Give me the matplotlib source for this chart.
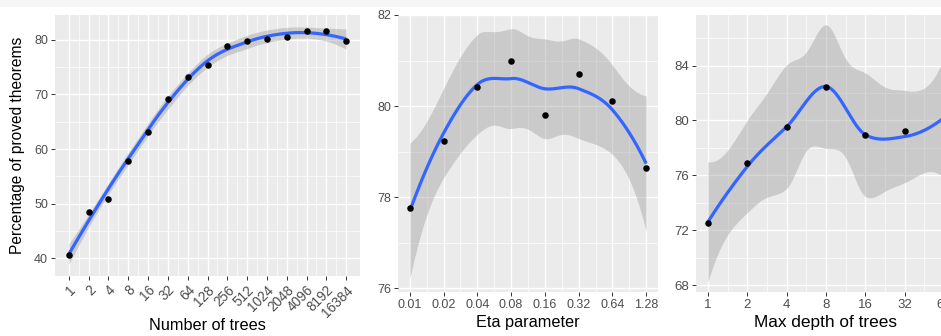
import math
import numpy as np
import matplotlib
matplotlib.use("Agg")
import matplotlib.pyplot as plt
from matplotlib.patches import Rectangle

plt.rcParams['font.family'] = ['Liberation Sans', 'DejaVu Sans']

# ---------------- data ----------------
trees_labels = ["1", "2", "4", "8", "16", "32", "64", "128", "256", "512",
                "1024", "2048", "4096", "8192", "16384"]
trees_values = [40.6, 48.5, 50.8, 57.8, 63.1, 69.2, 73.1, 75.4, 78.9, 79.8,
                80.1, 80.4, 81.5, 81.5, 79.8]

eta_labels = ["0.01", "0.02", "0.04", "0.08", "0.16", "0.32", "0.64", "1.28"]
eta_values = [77.77, 79.23, 80.41, 80.99, 79.81, 80.70, 80.12, 78.64]

depth_labels = ["1", "2", "4", "8", "16", "32", "64"]
depth_values = [72.53, 76.91, 79.54, 82.47, 78.96, 79.25, 80.1]

# ---------------- loess (like geom_smooth default, R-style interpolation) ----------------
def _betacf(a, b, x):
    MAXIT, EPS, FPMIN = 300, 3e-14, 1e-300
    qab, qap, qam = a + b, a + 1.0, a - 1.0
    c, d = 1.0, 1.0 - qab * x / qap
    if abs(d) < FPMIN:
        d = FPMIN
    d = 1.0 / d
    h = d
    for m in range(1, MAXIT + 1):
        m2 = 2 * m
        aa = m * (b - m) * x / ((qam + m2) * (a + m2))
        d = 1.0 + aa * d
        d = FPMIN if abs(d) < FPMIN else d
        c = 1.0 + aa / c
        c = FPMIN if abs(c) < FPMIN else c
        d = 1.0 / d
        h *= d * c
        aa = -(a + m) * (qab + m) * x / ((a + m2) * (qap + m2))
        d = 1.0 + aa * d
        d = FPMIN if abs(d) < FPMIN else d
        c = 1.0 + aa / c
        c = FPMIN if abs(c) < FPMIN else c
        d = 1.0 / d
        de = d * c
        h *= de
        if abs(de - 1.0) < EPS:
            break
    return h

def _betai(a, b, x):
    if x <= 0:
        return 0.0
    if x >= 1:
        return 1.0
    bt = math.exp(math.lgamma(a + b) - math.lgamma(a) - math.lgamma(b)
                  + a * math.log(x) + b * math.log(1 - x))
    if x < (a + 1) / (a + b + 2):
        return bt * _betacf(a, b, x) / a
    return 1.0 - bt * _betacf(b, a, 1 - x) / b

def _pt(t, df):
    p = 0.5 * _betai(df / 2.0, 0.5, df / (df + t * t))
    return 1 - p if t > 0 else p

def _qt(p, df):
    lo, hi = 0.0, 1e6
    for _ in range(300):
        mid = 0.5 * (lo + hi)
        if _pt(mid, df) < p:
            lo = mid
        else:
            hi = mid
    return 0.5 * (lo + hi)

def _local(x, x0, q, degree=2):
    d = np.abs(x - x0)
    h = np.sort(d)[q - 1]
    u = d / h
    w = np.where(u < 1, (1 - u ** 3) ** 3, 0.0)
    X = np.vander(x - x0, degree + 1, increasing=True)
    A = X.T @ (w[:, None] * X)
    B = np.linalg.pinv(A) @ (X.T * w)
    return B[0], B[1]          # operator rows for value and slope

def _vertices(x, span, cell=0.2):
    xs = np.sort(x)
    n = len(xs)
    fc = int(np.floor(n * span * cell))
    rng = xs[-1] - xs[0]
    margin = 0.005 * rng
    lo, hi = xs[0] - margin, xs[-1] + margin
    fd = span * cell * (hi - lo)
    verts = {lo, hi}

    def split(l, u, vlo, vhi):
        if u - l + 1 <= fc or (vhi - vlo) <= fd:
            return
        m = (l + u) // 2
        v = xs[m - 1]
        if v == vlo or v == vhi:
            return
        verts.add(v)
        split(l, m, vlo, v)
        split(m + 1, u, v, vhi)

    split(1, n, lo, hi)
    return np.array(sorted(verts))

def _interp_rows(x, z, span):
    n = len(x)
    q = int(np.floor(n * span))
    V = _vertices(x, span)
    vals, slopes = zip(*[_local(x, v, q) for v in V])
    vals, slopes = np.array(vals), np.array(slopes)
    rows = []
    for zz in z:
        i = np.searchsorted(V, zz, side="right") - 1
        i = min(max(i, 0), len(V) - 2)
        h = V[i + 1] - V[i]
        u = (zz - V[i]) / h
        p0 = (1 - u) ** 2 * (1 + 2 * u)
        p1 = u ** 2 * (3 - 2 * u)
        s0 = u * (1 - u) ** 2
        s1 = -u ** 2 * (1 - u)
        rows.append(p0 * vals[i] + p1 * vals[i + 1] + h * (s0 * slopes[i] + s1 * slopes[i + 1]))
    return np.array(rows)

def loess_smooth(x, y, n_out=200, span=0.75, ci_scale=1.0):
    x = np.asarray(x, float)
    y = np.asarray(y, float)
    n = len(x)
    L = _interp_rows(x, x, span)
    res = y - L @ y
    I = np.eye(n)
    M = (I - L).T @ (I - L)
    d1 = np.trace(M)
    d2 = np.trace(M @ M)
    sigma = math.sqrt(np.sum(res ** 2) / d1)
    df = d1 ** 2 / d2
    tq = _qt(0.975, df)
    xs = np.linspace(x.min(), x.max(), n_out)
    rows = _interp_rows(x, xs, span)
    fit = rows @ y
    se = sigma * np.sqrt(np.sum(rows ** 2, axis=1))
    half = tq * se * ci_scale
    return xs, fit, fit - half, fit + half

# ---------------- figure ----------------
W, H = 941, 336
fig = plt.figure(figsize=(W / 100, H / 100), dpi=100)
fig.patch.set_facecolor("white")
fig.patches.append(Rectangle((0, 1 - 7 / H), 1, 7 / H, transform=fig.transFigure,
                             facecolor="#F6F6F6", edgecolor="none", zorder=0))

def px_axes(l, t, r, b):
    return fig.add_axes([l / W, 1 - b / H, (r - l) / W, (b - t) / H])

def style(ax, xt, xlabels, yt, xlim, ylim, fs=9.0, xfs=None, rot=False):
    ax.set_facecolor("#EBEBEB")
    for s in ax.spines.values():
        s.set_visible(False)
    ax.set_xlim(*xlim)
    ax.set_xticks(xt)
    ax.set_xticklabels(xlabels)
    ax.set_yticks(yt)
    xt = np.asarray(xt, float)
    yt = np.asarray(yt, float)
    ax.set_xticks((xt[:-1] + xt[1:]) / 2, minor=True)
    ym = list((yt[:-1] + yt[1:]) / 2)
    step = yt[1] - yt[0]
    ym += [yt[0] - step / 2, yt[-1] + step / 2]
    ax.set_yticks(ym, minor=True)
    ax.set_ylim(*ylim)
    ax.grid(True, which="major", color="white", linewidth=1.0)
    ax.grid(True, which="minor", color="white", linewidth=0.5)
    ax.set_axisbelow(True)
    ax.tick_params(which="major", length=3, width=0.7, color="#333333",
                   labelcolor="#4D4D4D", labelsize=fs, pad=2)
    ax.tick_params(axis="x", labelsize=xfs if xfs else fs)
    ax.tick_params(which="minor", length=0)
    if rot:
        for lab in ax.get_xticklabels():
            lab.set_rotation(45)
            lab.set_ha("right")
            lab.set_va("top")
            lab.set_rotation_mode("anchor")

def draw(ax, xpos, yvals, ci_scale=1.0):
    xs, fit, lo, hi = loess_smooth(xpos, yvals, ci_scale=ci_scale)
    ax.fill_between(xs, lo, hi, color="#999999", alpha=0.4, linewidth=0, zorder=2)
    ax.plot(xs, fit, color="#3366FF", linewidth=2.3, zorder=3, solid_capstyle="butt")
    ax.scatter(xpos, yvals, s=22, color="black", zorder=4, linewidths=0)

# Panel 1
x1 = np.arange(len(trees_values))
ax1 = px_axes(55, 15, 360, 276)
style(ax1, x1, trees_labels, [40, 50, 60, 70, 80], (-0.7, 14.7), (36.8, 84.5),
      fs=9.0, xfs=9.8, rot=True)
draw(ax1, x1, trees_values)
ax1.set_xlabel("Number of trees", fontsize=11.7, va="center")
ax1.xaxis.set_label_coords(0.5, (276 - 325.5) / 261)
ax1.set_ylabel("Percentage of proved theorems", fontsize=11.2, va="center")
ax1.yaxis.set_label_coords((17.5 - 55) / 305, 0.5)

# Panel 2
x2 = np.arange(len(eta_values))
ax2 = px_axes(398, 15, 658, 292)
style(ax2, x2, eta_labels, [76, 78, 80, 82], (-0.35, 7.35), (75.92, 82.0), fs=9.0)
draw(ax2, x2, eta_values)
ax2.set_xlabel("Eta parameter", fontsize=11.7, va="center")
ax2.xaxis.set_label_coords(0.5, (292 - 322) / 277)

# Panel 3 (extends beyond the right edge, as in the reference)
x3 = np.arange(len(depth_values))
ax3 = px_axes(696, 15, 956, 292)
style(ax3, x3, depth_labels, [68, 72, 76, 80, 84], (-0.3, 6.3), (67.51, 87.68), fs=9.5)
draw(ax3, x3, depth_values, ci_scale=1.72)
ax3.set_xlabel("Max depth of trees", fontsize=12.4, va="center")
ax3.xaxis.set_label_coords((825.5 - 696) / 260, (292 - 322.5) / 277)

fig.savefig("out.png", dpi=100)
